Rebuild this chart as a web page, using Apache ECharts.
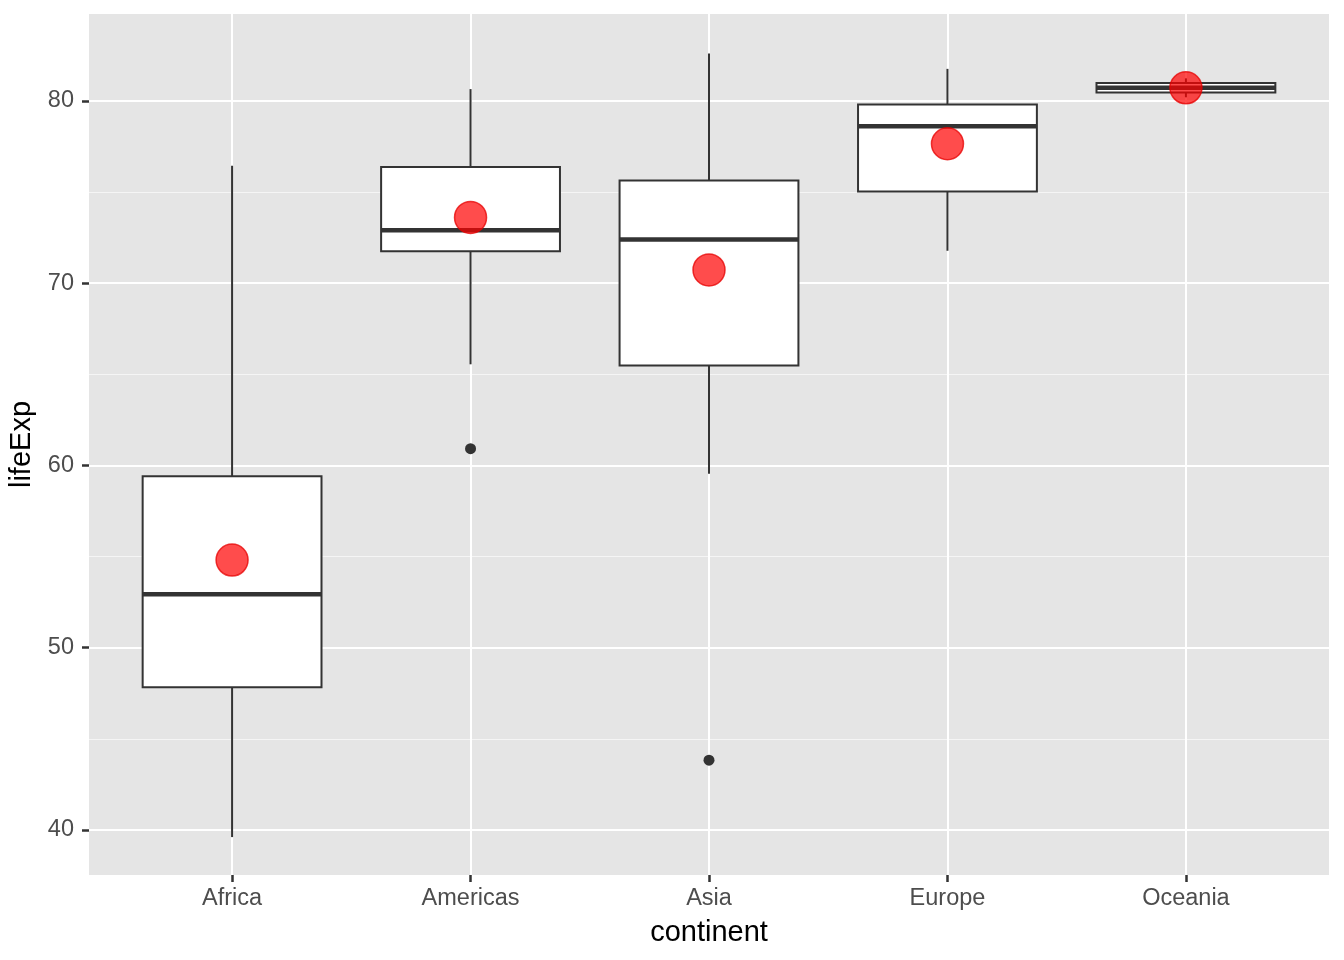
<!DOCTYPE html>
<html>
<head>
<meta charset="utf-8">
<script src="https://cdn.jsdelivr.net/npm/echarts@6/dist/echarts.min.js"></script>
<style>
  html, body { margin: 0; padding: 0; background: #fff; }
  #chart { width: 1344px; height: 960px; }
</style>
</head>
<body>
<div id="chart"></div>
<script>
// gapminder 2007, lifeExp by continent
var continents = ['Africa', 'Americas', 'Asia', 'Europe', 'Oceania'];
var lowerWhisker = [39.61, 65.55, 59.55, 71.78, 80.20];
var q1 = [47.83, 71.75, 65.48, 75.03, 80.46];
var median = [52.93, 72.90, 72.40, 78.61, 80.72];
var q3 = [59.41, 76.38, 75.63, 79.81, 80.98];
var upperWhisker = [76.44, 80.65, 82.60, 81.76, 81.24];
var means = [54.81, 73.61, 70.73, 77.65, 80.72];
var outlierContinent = ['Americas', 'Asia'];
var outlierValue = [60.92, 43.83];
var yTicks = [40, 50, 60, 70, 80];
var yMinor = [45, 55, 65, 75];

var xPos = continents.map(function (c, i) { return i + 1; });

var boxData = continents.map(function (c, i) {
    return [xPos[i], lowerWhisker[i], q1[i], median[i], q3[i], upperWhisker[i]];
});
var meanData = continents.map(function (c, i) { return [xPos[i], means[i]]; });
var outlierData = outlierContinent.map(function (c, i) {
    return [continents.indexOf(c) + 1, outlierValue[i]];
});

var chart = echarts.init(document.getElementById('chart'));

function renderBox(params, api) {
    var x = api.value(0);
    var halfW = api.size([0.75, 0])[0] / 2;
    var pLo = api.coord([x, api.value(1)]);
    var pQ1 = api.coord([x, api.value(2)]);
    var pMed = api.coord([x, api.value(3)]);
    var pQ3 = api.coord([x, api.value(4)]);
    var pHi = api.coord([x, api.value(5)]);
    var line = { stroke: '#333333', lineWidth: 2 };
    return {
        type: 'group',
        children: [
            { type: 'line', shape: { x1: pHi[0], y1: pHi[1], x2: pQ3[0], y2: pQ3[1] }, style: line },
            { type: 'line', shape: { x1: pQ1[0], y1: pQ1[1], x2: pLo[0], y2: pLo[1] }, style: line },
            {
                type: 'rect',
                shape: { x: pQ3[0] - halfW, y: pQ3[1], width: halfW * 2, height: pQ1[1] - pQ3[1] },
                style: { fill: '#ffffff', stroke: '#333333', lineWidth: 2 }
            },
            {
                type: 'line',
                shape: { x1: pMed[0] - halfW, y1: pMed[1], x2: pMed[0] + halfW, y2: pMed[1] },
                style: { stroke: '#333333', lineWidth: 4.5 }
            }
        ]
    };
}

chart.setOption({
    backgroundColor: '#ffffff',
    animation: false,
    textStyle: { fontFamily: 'Liberation Sans, Arial, sans-serif' },
    grid: {
        left: 89, right: 15, top: 14, bottom: 85,
        outerBoundsMode: 'none', containLabel: false,
        show: true, backgroundColor: '#E5E5E5', borderWidth: 0
    },
    xAxis: {
        type: 'value',
        min: 0.4,
        max: 5.6,
        name: 'continent',
        nameLocation: 'middle',
        nameGap: 43,
        nameTextStyle: { color: '#000000', fontSize: 29 },
        axisLine: { show: false },
        axisTick: { show: true, length: 7, customValues: xPos, lineStyle: { color: '#333333', width: 2.5 } },
        axisLabel: {
            customValues: xPos,
            color: '#4D4D4D',
            fontSize: 23.5,
            margin: 12,
            formatter: function (v) { return continents[Math.round(v) - 1]; }
        },
        splitLine: { show: true, lineStyle: { color: '#ffffff', width: 2 } }
    },
    yAxis: [{
        type: 'value',
        min: 37.53,
        max: 84.77,
        name: 'lifeExp',
        nameLocation: 'middle',
        nameGap: 45,
        nameRotate: 90,
        nameTextStyle: { color: '#000000', fontSize: 29 },
        axisLine: { show: false },
        axisTick: { show: true, length: 7, customValues: yTicks, lineStyle: { color: '#333333', width: 2.5 } },
        axisLabel: { customValues: yTicks, color: '#4D4D4D', fontSize: 23.5, margin: 15 },
        splitLine: { show: true, lineStyle: { color: '#ffffff', width: 2 } }
    }, {
        type: 'value',
        min: 37.53,
        max: 84.77,
        position: 'left',
        axisLine: { show: false },
        axisTick: { show: false, customValues: yMinor },
        axisLabel: { show: false, customValues: yMinor },
        splitLine: { show: true, lineStyle: { color: '#F5F5F5', width: 1 } }
    }],
    series: [{
        type: 'custom',
        renderItem: renderBox,
        data: boxData,
        z: 3
    }, {
        type: 'scatter',
        data: outlierData,
        symbolSize: 11,
        itemStyle: { color: '#333333', opacity: 1 },
        z: 4
    }, {
        type: 'scatter',
        data: meanData,
        symbolSize: 32,
        itemStyle: { color: 'rgba(255,0,0,0.7)', borderColor: 'rgba(230,0,0,0.75)', borderWidth: 1.5, opacity: 1 },
        z: 5
    }]
});
</script>
</body>
</html>
